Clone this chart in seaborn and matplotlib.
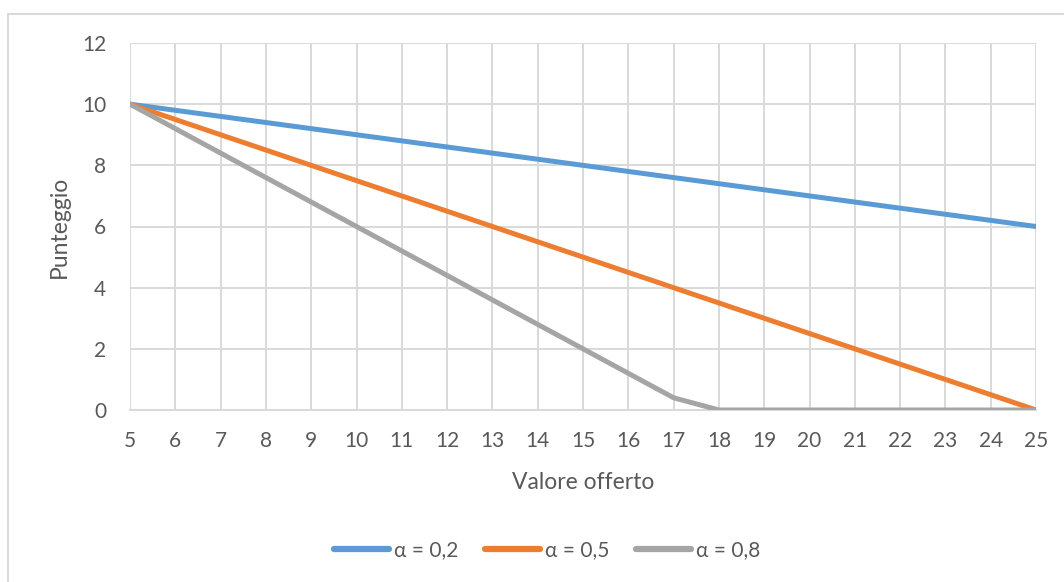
import matplotlib
matplotlib.use("Agg")
import matplotlib.pyplot as plt
import seaborn as sns
import pandas as pd
from matplotlib.lines import Line2D

# Data
valore_offerto = [5, 6, 7, 8, 9, 10, 11, 12, 13, 14, 15, 16, 17, 18, 19, 20, 21, 22, 23, 24, 25]
alpha_02 = [10, 9.8, 9.6, 9.4, 9.2, 9.0, 8.8, 8.6, 8.4, 8.2, 8.0, 7.8, 7.6, 7.4, 7.2, 7.0, 6.8, 6.6, 6.4, 6.2, 6.0]
alpha_05 = [10, 9.5, 9.0, 8.5, 8.0, 7.5, 7.0, 6.5, 6.0, 5.5, 5.0, 4.5, 4.0, 3.5, 3.0, 2.5, 2.0, 1.5, 1.0, 0.5, 0.0]
alpha_08 = [10, 9.2, 8.4, 7.6, 6.8, 6.0, 5.2, 4.4, 3.6, 2.8, 2.0, 1.2, 0.4, 0, 0, 0, 0, 0, 0, 0, 0]
series_names = ["α = 0,2", "α = 0,5", "α = 0,8"]
y_ticks = [0, 2, 4, 6, 8, 10, 12]

colors = ["#5B9BD5", "#ED7D31", "#A5A5A5"]
text_color = "#595959"
grid_color = "#D9D9D9"

rows = []
for name, vals in zip(series_names, [alpha_02, alpha_05, alpha_08]):
    for x, y in zip(valore_offerto, vals):
        rows.append({"Valore offerto": x, "Punteggio": y, "Serie": name})
df = pd.DataFrame(rows)

sns.set_theme(style="white")
plt.rcParams["font.family"] = ["Lato", "DejaVu Sans"]

fig = plt.figure(figsize=(10.64, 5.82), dpi=100)
ax = fig.add_axes([130/1064, 1 - 410/582, (1036-130)/1064, (410-43)/582])

sns.lineplot(data=df, x="Valore offerto", y="Punteggio", hue="Serie",
             hue_order=series_names, palette=colors, linewidth=3.6,
             legend=False, ax=ax, zorder=3)

ax.set_xlim(5, 25)
ax.set_ylim(0, 12)
ax.set_xticks(valore_offerto)
ax.set_yticks(y_ticks)
ax.grid(True, color=grid_color, linewidth=1.4)
ax.set_axisbelow(True)
for s in ["left", "right", "top"]:
    ax.spines[s].set_visible(False)
ax.spines["bottom"].set_color(grid_color)
ax.spines["bottom"].set_linewidth(1.4)
ax.tick_params(axis="both", length=0, labelsize=15, colors=text_color)
ax.tick_params(axis="x", pad=15)
ax.tick_params(axis="y", pad=17)
ax.set_xlabel("Valore offerto", fontsize=16.5, color=text_color, labelpad=15)
ax.set_ylabel("Punteggio", fontsize=16.5, color=text_color, labelpad=9)

handles = [Line2D([0], [0], color=c, linewidth=4.5, solid_capstyle="round") for c in colors]
fig.legend(handles, series_names, loc="center", bbox_to_anchor=(547/1064, 1 - 550/582),
           ncol=3, frameon=False, fontsize=15, labelcolor=text_color,
           handlelength=2.65, handletextpad=0.25, columnspacing=1.25)

# outer chart border (top and left visible)
fig.add_artist(Line2D([8/1064, 8/1064], [0, 1 - 14/582], transform=fig.transFigure,
                      color=grid_color, linewidth=1.4))
fig.add_artist(Line2D([8/1064, 1], [1 - 14/582, 1 - 14/582], transform=fig.transFigure,
                      color=grid_color, linewidth=1.4))

fig.savefig("out.png", dpi=100)
